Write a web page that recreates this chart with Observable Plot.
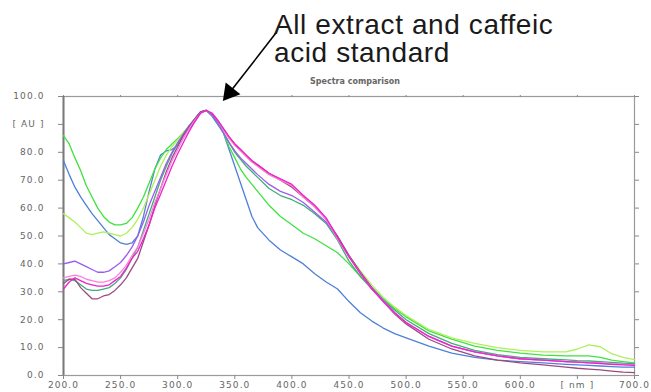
<!DOCTYPE html>
<html>
<head>
<meta charset="utf-8">
<script src="https://cdn.jsdelivr.net/npm/d3@7"></script>
<script src="https://cdn.jsdelivr.net/npm/@observablehq/plot@0.6"></script>
<style>
  html, body { margin: 0; padding: 0; background: #fff; }
  #wrap { position: relative; width: 651px; height: 392px; overflow: hidden; }
  #note { position: absolute; left: 274px; top: 11px; font-family: "Liberation Sans", Arial, sans-serif;
          font-size: 28px; line-height: 28px; letter-spacing: 0.6px; color: #1a1a1a; white-space: nowrap; }
  g[aria-label$="tick label"] text { letter-spacing: 1.1px; }
</style>
</head>
<body>
<div id="wrap"><div id="note">All extract and caffeic<br>acid standard</div></div>
<script>
// Wavelength grid (nm)
const wavelengths = [200,205,210,215,220,225,230,235,240,245,250,255,260,265,270,275,280,285,290,295,300,305,310,315,320,325,330,335,340,345,350,355,360,365,370,380,390,400,410,420,430,440,450,460,470,480,490,500,520,540,560,580,600,620,640,650,660,670,680,690,700];

// Series values ([AU]) on the grid above
const brightGreen = [86,83,78,73.5,68,64,60,57,55,54,54,54.5,56.5,60,64,69,74,78,81,83,85,87,89.5,92,94.5,95,93.5,90.5,87,82,78,74,71,68.5,66,61,57,54,51,49,46.5,44,40,35.5,31.5,27.5,24,21,16,13,10.5,9,8,7.3,7,7,7,6.5,5.5,5,4.5];
const blue = [77,72,67.5,64,61,58,55.5,53,50.5,49,47.5,47,47.5,50,57,66,74,79,80.5,81,82.5,86,88.5,91,94,95,93,90,87,81,75,69,63,57,53,48.5,45,42.5,40,36.5,33.5,31,26.5,22.5,19.5,17,15,13.5,10.5,8,6.5,5.5,5,4.5,4,3.8,3.6,3.4,3.2,3,3];
const yellowGreen = [58,56.5,55,53,51,50.5,51,51.5,51,50.5,50,51,53,56,60,65,70,75,79,82,84.5,87,89.5,92,94.5,95,94,91,88,85,82.5,80.5,78.5,76.5,75,72,70,68,64.5,61,56,49.5,43,37.5,32.5,28,24.5,21.5,16.5,13.5,11.5,10,9,8.5,8.5,9.5,11,10.3,7.8,6.5,5.7];
const violet = [40,40.5,41,40,39,38,37,37,37.5,39,40.5,43,46,50,55,61,66,71,76,80,83.5,86.5,89.5,92,94.5,95,93.5,90.5,87,83.5,80.5,78,76,74,72,68.5,66,64.5,62,58.5,55,49.5,43,37,31.5,27,22.5,19,14,10.5,8.5,7,6,5.5,5,4.8,4.6,4.4,4.2,4,4];
const pink = [35,35.5,36,35.5,34.5,34,33.5,33.5,34,35,37,39.5,43,46,51,56,62,67,72,77,81,85,88.5,91.5,94,95,94,91.5,88,85,82.5,80.5,78.5,76.5,75,72,70,68,64,60.5,56,49,42.5,36.5,31,26.5,22.5,19,14,10.5,8.5,7,6,5.5,5,4.8,4.6,4.4,4.2,4,3.8];
const magenta = [31,33.5,35,34,33,32.5,32,32,32.5,34,35.5,38.5,42,44.5,49,54,60,65,70,75,79.5,83.5,87.5,91,94,95,94,91.5,88.5,85.5,83,81,79,77,75.5,72.5,70.5,68.5,64.5,61,56.5,49.5,42.5,36.5,31,26.5,22.5,19,14,10.5,8.5,7,6,5.5,5,4.8,4.5,4.3,4,3.8,3.6];
const teal = [34,34.5,34,32.5,31,30.5,30.5,31,31.5,33,35,38,42,46,52,58,64,70,75,79.5,83,86.5,89.5,92,94.5,95,93.5,90.5,87,83.5,80,77.5,75,73,71,67,64.5,63,61,58,54.5,48.5,41,35.5,31,27,23.5,20,15,11.5,9,7.5,6.5,6,5.6,5.3,5.2,5,4.7,4.4,4.2];
const maroon = [33,34.5,34.5,31.5,29.5,27.5,27.5,28.5,29,30.5,32.5,35,38.5,42,48,54,61,67,73,78,82,86,89,92,94.5,95,94,91.5,88.5,85.5,83,81,79,77,75.5,72.5,70,67.5,64,60.5,56,50,43,37,31.5,26.5,22,18.5,13,9.5,7,5.5,4.5,3.8,3,2.6,2.3,2,1.6,1.2,1];

const seriesNames = ["blue","brightGreen","yellowGreen","teal","violet","maroon","pink","magenta"];
const seriesValues = {blue, brightGreen, yellowGreen, teal, violet, maroon, pink, magenta};
const seriesColors = ["#4f80d6","#3fe23f","#aef05a","#3fae78","#9a5cf0","#9a4a80","#ff7fe0","#ee22cc"];

// Axis ticks
const xTicks = [200,250,300,350,400,450,500,550,600,650,700];
const yTicks = [0,10,20,30,40,50,60,70,80,90,100];

// Annotation (title and arrow pointing to the peak)
const chartTitle = ["Spectra comparison"];
const arrowTail = {nm: 386.5, au: 123};
const arrowHead = {nm: 345.5, au: 101.4};

const rows = [];
seriesNames.forEach(name => {
  seriesValues[name].forEach((v, i) => rows.push({series: name, nm: wavelengths[i], au: v}));
});

const chart = Plot.plot({
  width: 651,
  height: 392,
  marginLeft: 63,
  marginRight: 17,
  marginTop: 96,
  marginBottom: 17,
  style: {fontFamily: "'DejaVu Sans', sans-serif", fontSize: "9px", color: "#666", background: "#fff", overflow: "visible"},
  x: {domain: [200, 700]},
  y: {domain: [0, 100]},
  color: {domain: seriesNames, range: seriesColors},
  marks: [
    Plot.frame({stroke: "#9a9a9a", strokeWidth: 1.2}),
    Plot.axisY({ticks: yTicks, tickFormat: d => d === 90 ? "[ AU ]" : d.toFixed(1), tickSize: 5, tickPadding: 14, stroke: "#888", fill: "#666", label: null}),
    Plot.axisY({anchor: "right", ticks: yTicks, tickFormat: () => "", tickSize: 4, stroke: "#888", label: null}),
    Plot.axisX({ticks: xTicks, tickFormat: d => d === 650 ? "[ nm ]" : d.toFixed(1), tickSize: 4, tickPadding: 2, stroke: "#888", fill: "#666", label: null}),
    Plot.axisX({anchor: "top", ticks: xTicks, tickFormat: () => "", tickSize: 2, stroke: "#888", label: null}),
    Plot.ruleX([200], {stroke: "#7a7a7a", strokeWidth: 2}),
    Plot.line(rows, {x: "nm", y: "au", z: "series", stroke: "series", strokeWidth: 1.3}),
    Plot.text(chartTitle, {frameAnchor: "top", dx: 6, dy: -18, fontSize: 8, fontWeight: "bold", fill: "#666", style: "letter-spacing:1.8px"}),
    Plot.link([{}], {x1: () => arrowTail.nm, y1: () => arrowTail.au, x2: () => arrowHead.nm, y2: () => arrowHead.au, stroke: "#000", strokeWidth: 1.6}),
    Plot.dot([arrowHead], {x: "nm", y: "au", symbol: "triangle", rotate: 218.5, r: 7, fill: "#000", stroke: null})
  ]
});
document.getElementById("wrap").prepend(chart);
</script>
</body>
</html>
